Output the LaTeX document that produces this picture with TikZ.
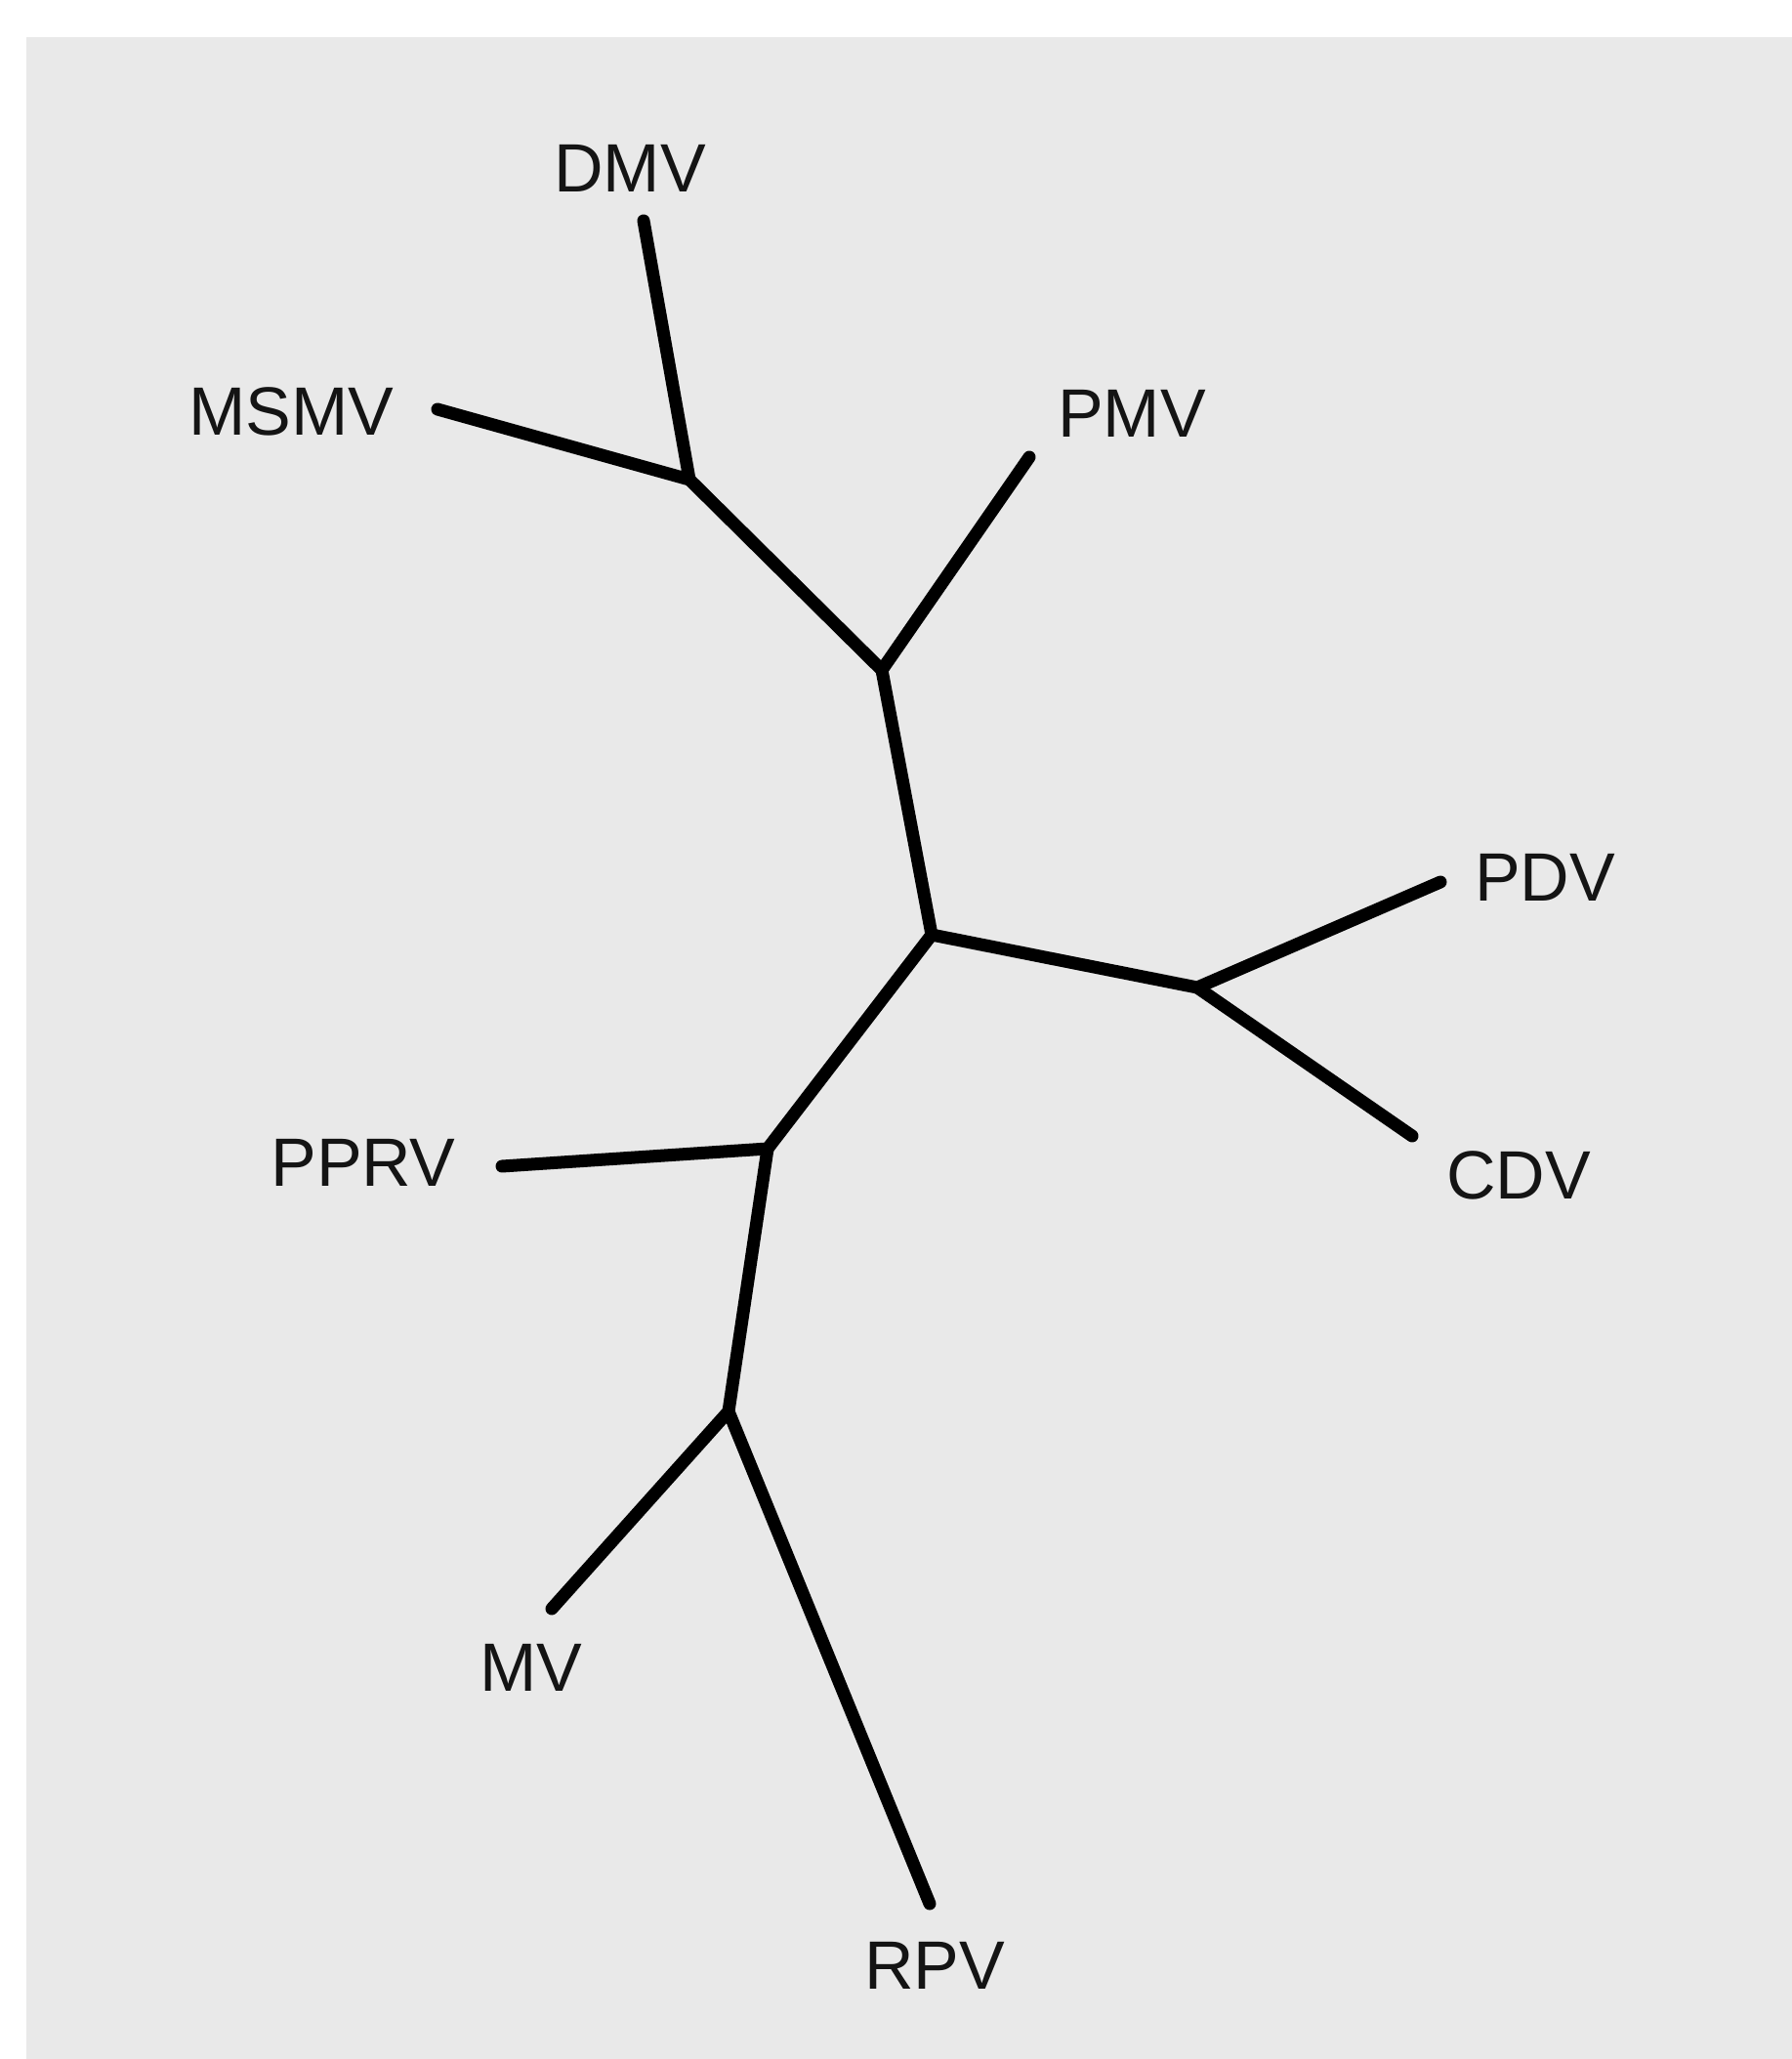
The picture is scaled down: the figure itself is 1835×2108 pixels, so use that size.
\documentclass[tikz,border=0pt]{standalone}
\usepackage{fontspec}
\setmainfont{Liberation Sans}
\definecolor{paper}{RGB}{233,233,233}
\tikzset{
  branch/.style={line width=13pt, line cap=round, line join=round, black},
  taxon/.style={font=\fontsize{70}{70}\selectfont, inner sep=0pt, text=black!92}
}
\begin{document}
\begin{tikzpicture}[x=1pt, y=-1pt]
  % page and the grey card the tree is printed on
  \useasboundingbox (0,0) rectangle (1835,2108);
  \fill[white] (0,0) rectangle (1835,2108);
  \fill[paper] (27,38) rectangle (1835,2108);

  % inner branch points
  \coordinate (j1) at (706,491);
  \coordinate (j2) at (903,686);
  \coordinate (j3) at (954,957);
  \coordinate (j4) at (1226,1011);
  \coordinate (j5) at (786,1176);
  \coordinate (j6) at (746,1445);

  % tips of the terminal branches
  \coordinate (tDMV)  at (659,226);
  \coordinate (tMSMV) at (448,419);
  \coordinate (tPMV)  at (1054,468);
  \coordinate (tPDV)  at (1475,903);
  \coordinate (tCDV)  at (1446,1163);
  \coordinate (tPPRV) at (514,1194);
  \coordinate (tMV)   at (565,1647);
  \coordinate (tRPV)  at (952,1949);

  % taxon labels
  \node[taxon] (DMV)  at (645,172)  {DMV};
  \node[taxon] (MSMV) at (298,421)  {MSMV};
  \node[taxon] (PMV)  at (1159,423) {PMV};
  \node[taxon] (PDV)  at (1582,898) {PDV};
  \node[taxon] (CDV)  at (1555,1203) {CDV};
  \node[taxon] (PPRV) at (372,1190) {PPRV};
  \node[taxon] (MV)   at (544,1707) {MV};
  \node[taxon] (RPV)  at (957,2012) {RPV};

  % the tree
  \draw[branch] (tDMV) -- (j1) -- (tMSMV);
  \draw[branch] (j1) -- (j2) -- (tPMV);
  \draw[branch] (j2) -- (j3) -- (j4) -- (tPDV);
  \draw[branch] (j4) -- (tCDV);
  \draw[branch] (j3) -- (j5) -- (tPPRV);
  \draw[branch] (j5) -- (j6) -- (tMV);
  \draw[branch] (j6) -- (tRPV);
\end{tikzpicture}
\end{document}
